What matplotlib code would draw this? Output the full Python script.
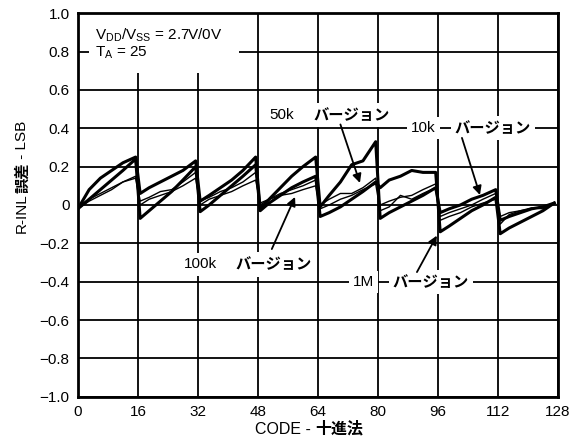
import matplotlib
matplotlib.use("Agg")
import matplotlib.pyplot as plt
from matplotlib.patches import Rectangle

plt.rcParams['font.family'] = ['Liberation Sans', 'Noto Sans CJK JP']
plt.rcParams['mathtext.fontset'] = 'custom'
plt.rcParams['mathtext.rm'] = 'Liberation Sans'
plt.rcParams['mathtext.it'] = 'Liberation Sans'
plt.rcParams['axes.unicode_minus'] = True

# Data
codes = [0, 3, 6, 9, 12, 15.4,
         16.6, 19, 22, 25, 28, 31.4,
         32.6, 35, 38, 41, 44, 47.4,
         48.6, 51, 54, 57, 60, 63.4,
         64.6, 67, 70, 73, 76, 79.4,
         80.6, 83, 86, 89, 92, 95.4,
         96.6, 99, 102, 105, 108, 111.4,
         112.6, 115, 118, 121, 124, 127]

curve_a = [-0.02, 0.08, 0.14, 0.18, 0.22, 0.25,
           0.06, 0.09, 0.12, 0.15, 0.18, 0.23,
           0.02, 0.05, 0.09, 0.13, 0.18, 0.25,
           -0.02, 0.03, 0.09, 0.15, 0.20, 0.25,
           -0.01, 0.05, 0.12, 0.21, 0.23, 0.33,
           -0.07, -0.04, -0.01, 0.02, 0.05, 0.09,
           -0.04, -0.02, 0.00, 0.03, 0.05, 0.08,
           -0.08, -0.06, -0.04, -0.02, -0.01, 0.01]

curve_b = [-0.02, 0.03, 0.08, 0.13, 0.18, 0.24,
           -0.07, -0.03, 0.02, 0.07, 0.13, 0.20,
           -0.035, 0.00, 0.05, 0.10, 0.15, 0.21,
           -0.03, 0.01, 0.05, 0.09, 0.12, 0.15,
           -0.06, -0.04, -0.01, 0.03, 0.07, 0.12,
           0.09, 0.13, 0.15, 0.18, 0.17, 0.17,
           -0.14, -0.11, -0.07, -0.03, 0.00, 0.04,
           -0.15, -0.12, -0.09, -0.06, -0.03, 0.01]

curve_c = [-0.01, 0.03, 0.06, 0.09, 0.12, 0.15,
           0.02, 0.04, 0.07, 0.08, 0.12, 0.17,
           0.02, 0.04, 0.07, 0.09, 0.12, 0.17,
           0.00, 0.03, 0.06, 0.08, 0.10, 0.13,
           0.00, 0.03, 0.06, 0.06, 0.09, 0.14,
           0.00, 0.02, 0.04, 0.05, 0.08, 0.11,
           -0.06, -0.04, -0.02, 0.00, 0.03, 0.06,
           -0.06, -0.04, -0.03, -0.02, -0.01, 0.01]

curve_d = [-0.02, 0.02, 0.05, 0.08, 0.12, 0.14,
           0.00, 0.03, 0.05, 0.07, 0.10, 0.14,
           0.00, 0.03, 0.05, 0.07, 0.10, 0.13,
           0.01, 0.03, 0.05, 0.06, 0.08, 0.10,
           -0.02, 0.00, 0.03, 0.05, 0.08, 0.11,
           -0.03, -0.01, 0.05, 0.03, 0.06, 0.09,
           -0.08, -0.06, -0.04, -0.01, 0.01, 0.03,
           -0.10, -0.05, -0.03, -0.015, -0.02, 0.01]

x_ticks = [0, 16, 32, 48, 64, 80, 96, 112, 128]
y_ticks = [-1.0, -0.8, -0.6, -0.4, -0.2, 0, 0.2, 0.4, 0.6, 0.8, 1.0]
y_tick_labels = ['\u22121.0', '\u22120.8', '\u22120.6', '\u22120.4', '\u22120.2',
                 '0', '0.2', '0.4', '0.6', '0.8', '1.0']

# (size label, where "バージョン" starts, arrow tip)
callouts = [('50k', (62.7, 0.47), (75.2, 0.115)),
            ('10k', (100.5, 0.40), (107.2, 0.052)),
            ('100k', (42.1, -0.31), (57.9, 0.042)),
            ('1M', (84.0, -0.40), (95.7, -0.16))]
arrow_tails = [(70, 0.42), (102.4, 0.35), (51.7, -0.23), (90.4, -0.35)]

fig = plt.figure(figsize=(5.77, 4.42), dpi=100)
ax = fig.add_axes([0.135, 0.1025, 0.832, 0.8675])

ax.plot(codes, curve_a, color='black', lw=2.2, zorder=3)
ax.plot(codes, curve_b, color='black', lw=2.2, zorder=3)
ax.plot(codes, curve_c, color='black', lw=1.0, zorder=3)
ax.plot(codes, curve_d, color='black', lw=1.0, zorder=3)

ax.set_xlim(0, 128)
ax.set_ylim(-1.0, 1.0)
ax.set_xticks(x_ticks)
ax.set_yticks(y_ticks)
ax.set_yticklabels(y_tick_labels)
ax.tick_params(length=0, labelsize=11, pad=6)
ax.grid(True, color='black', lw=1.3)
ax.set_axisbelow(True)
for sp in ax.spines.values():
    sp.set_linewidth(2)

# condition box (white area hides the grid)
ax.add_patch(Rectangle((3, 0.69), 40, 0.31, facecolor='white', edgecolor='none', zorder=1))
ax.text(4.5, 0.93, 'V$_{\\rm DD}$/V$_{\\rm SS}$ = 2.7V/0V\nT$_{\\rm A}$ = 25',
        fontsize=11, va='top', ha='left', linespacing=1.05, zorder=4)

# callouts
for (name, pos, tip), tail in zip(callouts, arrow_tails):
    ax.annotate(name, xy=pos, xytext=(-19, 0), textcoords='offset pixels',
                fontsize=11, ha='right', va='center', zorder=5,
                bbox=dict(facecolor='white', edgecolor='none', pad=3))
    ax.text(pos[0], pos[1], 'バージョン', fontsize=11, fontweight='bold',
            family=['Noto Sans CJK JP'], ha='left', va='center', zorder=5,
            bbox=dict(facecolor='white', edgecolor='none', pad=3))
    ax.annotate('', xy=tip, xytext=tail, zorder=6,
                arrowprops=dict(arrowstyle='-|>', color='black', lw=1.3,
                                mutation_scale=13, shrinkA=0, shrinkB=0))

# axis labels with bold Japanese parts
xl = fig.text(0.546, 0.012, 'CODE - ', fontsize=11.5, ha='right', va='bottom')
ax.annotate('十進法', xy=(1, 0), xycoords=xl, fontsize=11.5, fontweight='bold',
            family=['Noto Sans CJK JP'], ha='left', va='bottom')

yl = fig.text(0.026, 0.473, 'R-INL', fontsize=11, rotation=90, ha='left', va='bottom')
y2 = ax.annotate('誤差', xy=(0.5, 1), xycoords=yl, fontsize=11, fontweight='bold',
                 family=['Noto Sans CJK JP'], rotation=90, ha='center', va='bottom')
ax.annotate(' - LSB', xy=(0.5, 1), xycoords=y2, fontsize=11, rotation=90,
            ha='center', va='bottom')

fig.savefig('out.png', dpi=100)
